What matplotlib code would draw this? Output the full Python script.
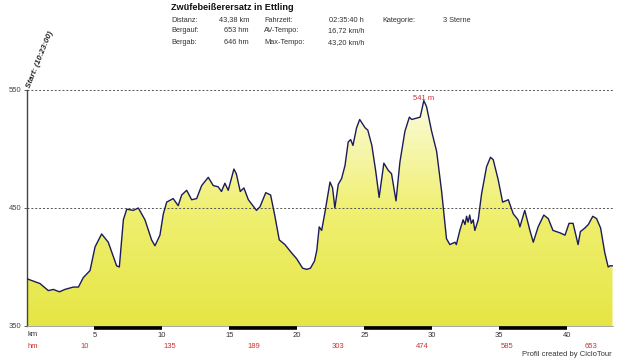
import matplotlib
matplotlib.use("Agg")
import matplotlib.pyplot as plt
import numpy as np
from matplotlib.colors import LinearSegmentedColormap
from matplotlib.transforms import offset_copy

plt.rcParams['font.family'] = ['Liberation Sans', 'DejaVu Sans']

# ---- data ----
km = [0, 0.96, 1.58, 1.95, 2.40, 2.81, 3.43, 3.81, 4.17, 4.67, 5.04, 5.53, 6.02, 6.39, 6.64, 6.84,
      7.14, 7.39, 7.87, 8.25, 8.74, 9.23, 9.48, 9.85, 10.10, 10.35, 10.83, 11.20, 11.46, 11.83,
      12.20, 12.57, 12.94, 13.43, 13.80, 14.16, 14.41, 14.66, 14.91, 15.33, 15.51, 15.80, 16.07,
      16.40, 17.00, 17.26, 17.69, 18.05, 18.37, 18.69, 19.11, 19.60, 19.98, 20.42, 20.72, 21.0,
      21.3, 21.47, 21.65, 21.83, 22.07, 22.45, 22.64, 22.81, 23.06, 23.31, 23.56, 23.80, 23.98,
      24.15, 24.42, 24.65, 25.05, 25.25, 25.55, 25.84, 26.09, 26.44, 26.76, 27.01, 27.34, 27.63,
      28.00, 28.33, 28.50, 29.13, 29.40, 29.60, 29.98, 30.35, 30.72, 31.08, 31.33, 31.71, 31.81,
      32.07, 32.31, 32.45, 32.57, 32.68, 32.80, 32.92, 33.06, 33.18, 33.43, 33.68, 34.05, 34.34,
      34.54, 34.91, 35.24, 35.66, 36.03, 36.38, 36.52, 36.88, 37.26, 37.51, 37.87, 38.29, 38.62,
      38.97, 39.48, 39.86, 40.16, 40.46, 40.83, 41.00, 41.33, 41.59, 41.92, 42.20, 42.50, 42.81,
      43.06, 43.20, 43.38]
elev = [390, 386, 380, 381, 379, 381, 383, 383, 391, 397, 417, 428, 421, 409, 401, 400,
        440, 449, 448, 450, 440, 423, 418, 427, 445, 455, 458, 452, 461, 465,
        457, 458, 469, 476, 469, 468, 464, 471, 465, 483, 479, 464, 467,
        457, 448, 451, 463, 461, 443, 423, 419, 412, 407, 399, 398, 399,
        405, 414, 434, 431, 446, 472, 467, 450, 470, 475, 486, 506, 508,
        503, 518, 525, 518, 516, 503, 481, 459, 488, 482, 479, 456, 489,
        515, 527, 525, 527, 541, 536, 515, 498, 464, 424, 419, 421, 419,
        431, 440, 436, 443, 438, 444, 437, 440, 431, 440, 462, 485, 493,
        491, 474, 455, 457, 445, 440, 434, 448, 431, 421, 434, 444, 441,
        431, 429, 427, 437, 437, 419, 430, 433, 436, 443, 441, 433, 412,
        400, 401, 401]

xtick_vals = [5, 10, 15, 20, 25, 30, 35, 40]
hm_labels = ["10", "135", "189", "303", "474", "585", "653"]
hm_pos = [4.3, 10.55, 16.8, 23.05, 29.3, 35.55, 41.8]
ytick_vals = [350, 450, 550]

title = "Zwüfebeißerersatz in Ettling"
info_rows = [
    ("Distanz:", "43,38 km", "Fahrzeit:", "02:35:40 h", "Kategorie:", "3 Sterne"),
    ("Bergauf:", "653 hm", "AV-Tempo:", "16,72 km/h", "", ""),
    ("Bergab:", "646 hm", "Max-Tempo:", "43,20 km/h", "", ""),
]
peak_label = "541 m"

W, H = 640, 360
fig = plt.figure(figsize=(6.4, 3.6), dpi=100)
fig.patch.set_facecolor("white")

def fx(px):
    return px / W

def fy(py):
    return 1 - py / H

x0, x1, ytop, ybot = 27, 612.5, 90, 326
ax = fig.add_axes([fx(x0), fy(ybot), fx(x1) - fx(x0), fy(ytop) - fy(ybot)])
xmax = km[-1]
ax.set_xlim(0, xmax)
ax.set_ylim(350, 550)
ax.set_facecolor("none")

# gradient fill
poly = ax.fill_between(km, elev, 350, color="none", lw=0)
cmap = LinearSegmentedColormap.from_list("yl", [(0.90, 0.90, 0.27), (0.94, 0.94, 0.45), (0.99, 0.99, 0.90)])
grad = np.linspace(0, 1, 256).reshape(-1, 1)
im = ax.imshow(grad, cmap=cmap, aspect="auto", origin="lower",
               extent=[0, xmax, 350, 550], zorder=1)
im.set_clip_path(poly.get_paths()[0], transform=ax.transData)

ax.plot(km, elev, color="#1c1c5c", lw=1.0, zorder=3)

for yv in [450, 550]:
    ax.axhline(yv, color="#555555", lw=0.7, ls=(0, (2, 2)), zorder=2)

for s in ["top", "right"]:
    ax.spines[s].set_visible(False)
ax.spines["left"].set_color("#444444")
ax.spines["left"].set_linewidth(1.0)
ax.spines["bottom"].set_color("#999999")
ax.spines["bottom"].set_linewidth(0.6)

ax.set_yticks(ytick_vals)
ax.set_yticklabels([str(v) for v in ytick_vals], fontsize=5.5, color="#444444")
ax.tick_params(axis="y", length=2.5, width=0.6, color="#444444", pad=1.5)

ax.set_xticks(xtick_vals)
ax.set_xticklabels([str(v) for v in xtick_vals], fontsize=5.5, color="#333333")
ax.tick_params(axis="x", length=0, pad=4)

# black bars under axis
bar_tr = offset_copy(ax.transData, fig=fig, x=0, y=-1.5, units="points")
for a in range(0, len(xtick_vals), 2):
    ax.plot([xtick_vals[a], xtick_vals[a + 1]], [350, 350], color="black", lw=2.6,
            solid_capstyle="butt", clip_on=False, zorder=4, transform=bar_tr)

# peak label
ax.text(29.4, 546, peak_label, color="#cc3333", fontsize=5.5, ha="center", va="top", zorder=5)

# km / hm rows
fig.text(fx(28), fy(335), "km", fontsize=5.5, color="#333333", va="center", ha="left")
fig.text(fx(28), fy(347), "hm", fontsize=5.5, color="#cc3333", va="center", ha="left")
for p, lab in zip(hm_pos, hm_labels):
    xp = ax.transData.transform((p, 350))[0]
    fig.text(xp / fig.dpi / 6.4, fy(347), lab, fontsize=5.5, color="#cc3333", ha="center", va="center")

fig.text(fx(612), fy(355), "Profil created by CicloTour", fontsize=5.5, color="#333333",
         ha="right", va="center")

# title & info
fig.text(fx(171), fy(8), title, fontsize=6.6, fontweight="bold", color="#111111", va="center", ha="left")
col_x = [(171, "left"), (249, "right"), (264, "left"), (364, "right"), (382, "left"), (443, "left")]
row_y = [20, 31, 43]
for ry, row in zip(row_y, info_rows):
    for (cx, ha), txt in zip(col_x, row):
        if txt:
            fig.text(fx(cx), fy(ry), txt, fontsize=5.3, color="#333333", ha=ha, va="center")

fig.text(fx(40), fy(60), "Start: (10:23:00)", fontsize=5.8, fontweight="bold", style="italic",
         rotation=68, ha="center", va="center", color="#222222")

fig.savefig("out.png", dpi=100, facecolor="white")
